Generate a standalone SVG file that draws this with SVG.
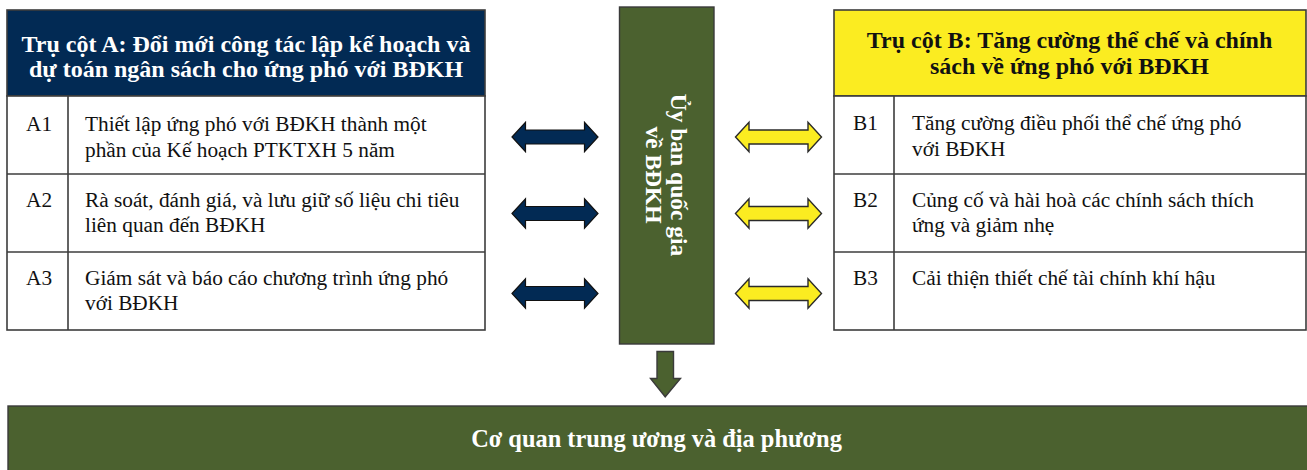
<svg xmlns="http://www.w3.org/2000/svg" width="1307" height="470" viewBox="0 0 1307 470">
<style>
.cell{fill:#ffffff;stroke:#3c3c3c;stroke-width:1.6}
.hdA{fill:#022a54;stroke:#3c3c3c;stroke-width:1.6}
.hdB{fill:#fbec21;stroke:#3c3c3c;stroke-width:1.6}
.grn{fill:#4b612f;stroke:#3a3a3a;stroke-width:1.4}
.ln{stroke:#3c3c3c;stroke-width:1.6;fill:none}
.t{font-family:"Liberation Serif","Times New Roman",serif;font-size:21.3px;fill:#111}
.h{font-family:"Liberation Serif","Times New Roman",serif;font-size:24px;font-weight:bold;text-anchor:middle}
.w{fill:#ffffff}
.k{fill:#111}
.arN{fill:#022a54;stroke:#111;stroke-width:1.2}
.arY{fill:#fbec21;stroke:#2a2a2a;stroke-width:1.4}
</style>
<defs>
<path id="dbl" d="M0,0 L13.5,-14.7 L13.5,-7 L72.5,-7 L72.5,-14.7 L86,0 L72.5,14.7 L72.5,7 L13.5,7 L13.5,14.7 Z"/>
</defs>

<g id="pillarA">
<rect class="hdA" x="7" y="10" width="478" height="86"/>
<text class="h w" x="246" y="52">Trụ cột A: Đổi mới công tác lập kế hoạch và</text>
<text class="h w" x="246" y="77">dự toán ngân sách cho ứng phó với BĐKH</text>
<rect class="cell" x="7" y="96" width="478" height="234"/>
<line class="ln" x1="68" y1="96" x2="68" y2="330"/>
<line class="ln" x1="7" y1="174" x2="485" y2="174"/>
<line class="ln" x1="7" y1="252" x2="485" y2="252"/>
</g>
<g id="A1">
<text class="t" x="26" y="131">A1</text>
<text class="t" x="85" y="131">Thiết lập ứng phó với BĐKH thành một</text>
<text class="t" x="85" y="157">phần của Kế hoạch PTKTXH 5 năm</text>
</g>
<g id="A2">
<text class="t" x="26" y="207">A2</text>
<text class="t" x="85" y="207">Rà soát, đánh giá, và lưu giữ số liệu chi tiêu</text>
<text class="t" x="85" y="232">liên quan đến BĐKH</text>
</g>
<g id="A3">
<text class="t" x="26" y="285">A3</text>
<text class="t" x="85" y="285">Giám sát và báo cáo chương trình ứng phó</text>
<text class="t" x="85" y="310">với BĐKH</text>
</g>

<g id="pillarB">
<rect class="hdB" x="834" y="10" width="472" height="86"/>
<text class="h k" x="1069.5" y="48">Trụ cột B: Tăng cường thể chế và chính</text>
<text class="h k" x="1069.5" y="74">sách về ứng phó với BĐKH</text>
<rect class="cell" x="834" y="96" width="472" height="234"/>
<line class="ln" x1="894" y1="96" x2="894" y2="330"/>
<line class="ln" x1="834" y1="174" x2="1306" y2="174"/>
<line class="ln" x1="834" y1="252" x2="1306" y2="252"/>
</g>
<g id="B1">
<text class="t" x="853" y="130">B1</text>
<text class="t" x="912" y="130">Tăng cường điều phối thể chế ứng phó</text>
<text class="t" x="912" y="156">với BĐKH</text>
</g>
<g id="B2">
<text class="t" x="853" y="207">B2</text>
<text class="t" x="912" y="207">Củng cố và hài hoà các chính sách thích</text>
<text class="t" x="912" y="232">ứng và giảm nhẹ</text>
</g>
<g id="B3">
<text class="t" x="853" y="285">B3</text>
<text class="t" x="912" y="285">Cải thiện thiết chế tài chính khí hậu</text>
</g>

<g id="committee">
<rect class="grn" x="619.5" y="7" width="94.5" height="337"/>
<g transform="translate(667,175) rotate(90)">
<text class="h w" x="0" y="-4" style="font-size:23.5px">Ủy ban quốc gia</text>
<text class="h w" x="0" y="21" style="font-size:23.5px">về BĐKH</text>
</g>
</g>

<g id="agencies">
<rect class="grn" x="8" y="406" width="1310" height="70"/>
<text class="h w" x="656.5" y="446.5" style="font-size:24.4px">Cơ quan trung ương và địa phương</text>
</g>

<g id="connectors">
<use href="#dbl" class="arN" x="512" y="137"/>
<use href="#dbl" class="arN" x="512" y="213.5"/>
<use href="#dbl" class="arN" x="512" y="293.5"/>
<use href="#dbl" class="arY" x="735.5" y="137"/>
<use href="#dbl" class="arY" x="735.5" y="213.5"/>
<use href="#dbl" class="arY" x="735.5" y="293.5"/>
<path class="grn" d="M657,351.5 L673.5,351.5 L673.5,378.5 L680.5,378.5 L665.2,396.8 L650.5,378.5 L657,378.5 Z"/>
</g>
</svg>
